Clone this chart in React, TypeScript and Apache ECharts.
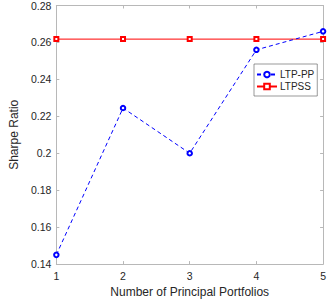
import React, { useEffect, useRef } from "react";
import * as echarts from "echarts";

const categories = [1, 2, 3, 4, 5];
const ltpPP = [0.145, 0.2245, 0.2, 0.256, 0.266];
const ltpSS = [0.2618, 0.2618, 0.2618, 0.2618, 0.2618];
const seriesNames = ["LTP-PP", "LTPSS"];

export default function App() {
  const ref = useRef<HTMLDivElement>(null);
  useEffect(() => {
    if (!ref.current) return;
    const chart = echarts.init(ref.current, null, { renderer: "svg" });
    const axisLine = { show: true, lineStyle: { color: "#b8b8b8", width: 1 } };
    const tick = { show: true, inside: true, length: 3, lineStyle: { color: "#b8b8b8" } };
    const font = "Liberation Sans, Arial, sans-serif";
    chart.setOption({
      animation: false,
      backgroundColor: "#fff",
      textStyle: { fontFamily: font },
      grid: { left: 40, right: 5, top: 5, bottom: 36, containLabel: false },
      legend: {
        orient: "vertical",
        left: 254,
        top: 64,
        itemWidth: 20,
        itemHeight: 7,
        itemGap: 1,
        padding: [5, 3, 4, 2],
        borderColor: "#555",
        borderWidth: 0.6,
        backgroundColor: "#fff",
        textStyle: {
          fontSize: 10,
          lineHeight: 11,
          color: "#262626",
          fontFamily: font,
          padding: [0, 0, 0, -2],
        },
        data: seriesNames,
      },
      xAxis: [
        {
          type: "value",
          min: 1,
          max: 5,
          interval: 1,
          name: "Number of Principal Portfolios",
          nameLocation: "middle",
          nameGap: 21,
          nameTextStyle: { fontSize: 12, color: "#262626", fontFamily: font },
          axisLine,
          axisTick: tick,
          axisLabel: { fontSize: 10.5, color: "#262626", margin: 6 },
          splitLine: { show: false },
        },
        {
          type: "value",
          position: "top",
          min: 1,
          max: 5,
          interval: 1,
          axisLine,
          axisTick: tick,
          axisLabel: { show: false },
          splitLine: { show: false },
        },
      ],
      yAxis: [
        {
          type: "value",
          min: 0.14,
          max: 0.28,
          interval: 0.02,
          name: "Sharpe Ratio",
          nameLocation: "middle",
          nameGap: 27,
          nameTextStyle: { fontSize: 12, color: "#262626", fontFamily: font },
          axisLine,
          axisTick: tick,
          axisLabel: { fontSize: 10.5, color: "#262626", margin: 5 },
          splitLine: { show: false },
        },
        {
          type: "value",
          position: "right",
          min: 0.14,
          max: 0.28,
          interval: 0.02,
          axisLine,
          axisTick: tick,
          axisLabel: { show: false },
          splitLine: { show: false },
        },
      ],
      series: [
        {
          name: seriesNames[0],
          type: "line",
          data: categories.map((c, i) => [c, ltpPP[i]]),
          symbol: "emptyCircle",
          symbolSize: 4.5,
          lineStyle: { color: "#0000ff", width: 1, type: [4, 3] },
          itemStyle: { color: "#0000ff", borderColor: "#0000ff", borderWidth: 0.9 },
          z: 3,
        },
        {
          name: seriesNames[1],
          type: "line",
          data: categories.map((c, i) => [c, ltpSS[i]]),
          symbol: "emptyRect",
          symbolSize: 4,
          lineStyle: { color: "#ff0000", width: 1 },
          itemStyle: { color: "#ff0000", borderColor: "#ff0000", borderWidth: 0.9 },
          z: 2,
        },
      ],
    });
    return () => chart.dispose();
  }, []);
  return (
    <div
      ref={ref}
      style={{ position: "fixed", left: 0, top: 0, width: 329, height: 303, background: "#fff" }}
    />
  );
}
